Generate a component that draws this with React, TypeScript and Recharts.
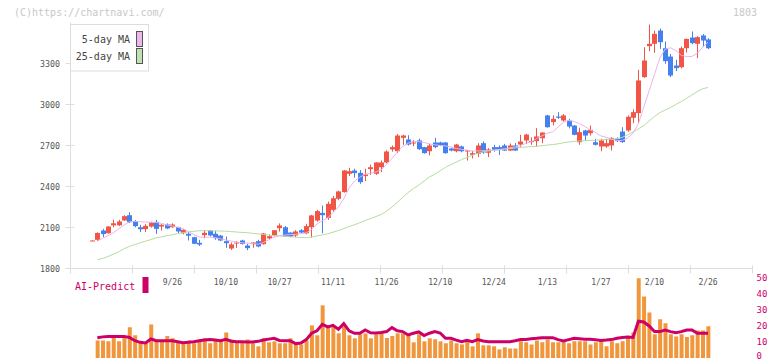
import React from 'react';
import { ComposedChart, Bar, Line, XAxis, YAxis } from 'recharts';

// trading days 9/3 .. 2/26, one entry per candle
const dateLabels = ['9/26', '10/10', '10/27', '11/11', '11/26', '12/10', '12/24', '1/13', '1/27', '2/10', '2/26'];
const dateIdx = [15, 25, 35, 45, 55, 65, 75, 85, 95, 105, 115];

const opens = [
  2000, 2010, 2078, 2058, 2116, 2116, 2152, 2190, 2146, 2102,
  2088, 2107, 2141, 2107, 2122, 2102, 2102, 2058, 2054, 2029,
  1988, 2044, 2078, 2054, 2041, 2000, 1946, 1983, 2005, 1968,
  1978, 2000, 1978, 2020, 2041, 2095, 2102, 2063, 2041, 2080,
  2058, 2102, 2151, 2207, 2171, 2229, 2310, 2359, 2493, 2517,
  2500, 2476, 2527, 2493, 2541, 2576, 2671, 2658, 2756, 2744,
  2717, 2737, 2688, 2658, 2722, 2722, 2722, 2678, 2658, 2693,
  2656, 2632, 2639, 2717, 2647, 2688, 2688, 2700, 2663, 2700,
  2707, 2737, 2729, 2732, 2753, 2920, 2871, 2912, 2883, 2883,
  2846, 2724, 2810, 2790, 2724, 2693, 2693, 2700, 2749, 2802,
  2810, 2903, 2937, 3200, 3427, 3444, 3541, 3412, 3351, 3285,
  3273, 3412, 3490, 3444, 3505, 3476,
];
const highs = [
  2006, 2065, 2090, 2110, 2158, 2156, 2190, 2212, 2155, 2120,
  2124, 2143, 2156, 2124, 2130, 2130, 2105, 2090, 2066, 2032,
  2010, 2080, 2082, 2075, 2045, 2034, 1990, 2000, 2010, 1980,
  1992, 2010, 2060, 2050, 2082, 2130, 2110, 2065, 2080, 2088,
  2127, 2193, 2230, 2261, 2290, 2330, 2370, 2520, 2537, 2530,
  2520, 2530, 2560, 2578, 2590, 2665, 2700, 2785, 2780, 2775,
  2740, 2750, 2690, 2712, 2756, 2728, 2725, 2683, 2712, 2700,
  2668, 2661, 2717, 2730, 2680, 2705, 2700, 2712, 2715, 2718,
  2778, 2786, 2760, 2827, 2797, 2925, 2920, 2944, 2930, 2895,
  2850, 2830, 2815, 2846, 2749, 2749, 2749, 2760, 2760, 2834,
  2920, 2965, 3254, 3419, 3585, 3541, 3556, 3461, 3370, 3327,
  3424, 3482, 3534, 3500, 3515, 3485,
];
const lows = [
  2000, 2003, 2030, 2055, 2102, 2110, 2148, 2132, 2102, 2066,
  2066, 2100, 2054, 2078, 2088, 2098, 2055, 2050, 2005, 1978,
  1965, 2020, 2035, 2010, 2000, 1951, 1936, 1951, 1975, 1934,
  1952, 1955, 1975, 2015, 2035, 2070, 2030, 2030, 2030, 2060,
  2050, 2027, 2142, 2058, 2156, 2215, 2300, 2355, 2476, 2465,
  2420, 2440, 2485, 2485, 2505, 2570, 2655, 2645, 2705, 2700,
  2695, 2668, 2640, 2627, 2680, 2695, 2640, 2658, 2650, 2650,
  2590, 2605, 2615, 2640, 2615, 2655, 2630, 2660, 2660, 2660,
  2690, 2710, 2705, 2693, 2717, 2830, 2847, 2895, 2875, 2825,
  2775, 2705, 2737, 2773, 2700, 2658, 2683, 2663, 2725, 2720,
  2800, 2863, 2863, 3195, 3390, 3378, 3407, 3298, 3200, 3244,
  3265, 3380, 3440, 3339, 3420, 3405,
];
const closes = [
  2005, 2060, 2052, 2107, 2131, 2144, 2183, 2139, 2110, 2087,
  2112, 2136, 2090, 2120, 2093, 2122, 2071, 2083, 2040, 1981,
  1975, 2061, 2042, 2022, 2005, 1985, 1976, 1990, 1980, 1949,
  1990, 1961, 2056, 2036, 2080, 2115, 2034, 2034, 2071, 2063,
  2110, 2188, 2220, 2190, 2273, 2314, 2364, 2517, 2512, 2498,
  2432, 2488, 2541, 2576, 2576, 2656, 2688, 2773, 2773, 2707,
  2722, 2673, 2644, 2700, 2688, 2700, 2644, 2663, 2707, 2658,
  2666, 2644, 2700, 2649, 2671, 2669, 2669, 2663, 2700, 2663,
  2729, 2780, 2732, 2766, 2795, 2834, 2895, 2903, 2920, 2839,
  2778, 2798, 2773, 2815, 2705, 2737, 2717, 2756, 2732, 2725,
  2910, 2944, 3176, 3322, 3444, 3517, 3456, 3317, 3212, 3266,
  3412, 3480, 3449, 3493, 3468, 3412,
];
const ma5 = [
  null, 2000, 2022, 2040, 2062, 2090, 2118, 2142, 2145, 2142,
  2140, 2138, 2137, 2130, 2118, 2112, 2102, 2090, 2070, 2048,
  2030, 2028, 2030, 2025, 2017, 2008, 2000, 1993, 1988, 1986,
  1982, 1978, 1990, 2010, 2028, 2040, 2045, 2048, 2050, 2055,
  2060, 2085, 2125, 2150, 2170, 2210, 2250, 2310, 2390, 2440,
  2468, 2490, 2497, 2507, 2522, 2562, 2605, 2652, 2693, 2716,
  2731, 2728, 2722, 2712, 2705, 2700, 2697, 2690, 2678, 2672,
  2665, 2660, 2660, 2662, 2663, 2665, 2670, 2675, 2683, 2690,
  2700, 2715, 2728, 2750, 2770, 2790, 2800, 2835, 2870, 2883,
  2876, 2860, 2840, 2815, 2795, 2770, 2760, 2745, 2737, 2737,
  2755, 2790, 2860, 2980, 3100, 3220, 3340, 3405, 3415, 3395,
  3360, 3350, 3352, 3375, 3420, 3456,
];
const ma25 = [
  null, 1864, 1874, 1888, 1905, 1922, 1945, 1962, 1975, 1988,
  2000, 2012, 2024, 2032, 2040, 2047, 2055, 2062, 2068, 2072,
  2076, 2077, 2076, 2075, 2074, 2073, 2070, 2067, 2064, 2062,
  2057, 2053, 2049, 2045, 2041, 2038, 2035, 2032, 2029, 2027,
  2026, 2030, 2038, 2046, 2054, 2066, 2078, 2092, 2107, 2120,
  2135, 2151, 2165, 2180, 2196, 2220, 2250, 2285, 2320, 2355,
  2385, 2410, 2440, 2470, 2490, 2515, 2540, 2560, 2578, 2597,
  2613, 2628, 2642, 2654, 2660, 2665, 2669, 2673, 2677, 2682,
  2686, 2689, 2692, 2694, 2698, 2703, 2707, 2712, 2720, 2726,
  2730, 2733, 2735, 2737, 2739, 2741, 2744, 2747, 2750, 2760,
  2778, 2800, 2822, 2845, 2880, 2912, 2940, 2960, 2978, 3000,
  3022, 3045, 3070, 3095, 3115, 3125,
];
const volume = [
  null, 11, 11, 10.4, 12.5, 10.4, 12.5, 19.2, 14.2, 10.6,
  9.2, 21, 10.8, 10.8, 13.8, 12.3, 10.6, 9.2, 11, 9.2,
  11, 12.3, 9.2, 11.7, 11, 16, 11.5, 10.2, 9.4, 11.5,
  9.2, 7.3, 12.3, 9.8, 10.4, 9.2, 9.2, 12.3, 8.5, 8.5,
  11, 20.4, 14.2, 32.9, 19.2, 19.8, 15.4, 19.8, 14.2, 12.3,
  14.8, 15.4, 12.3, 14.8, 15.4, 12.5, 13.8, 15.4, 15.4, 14.8,
  9.8, 14.8, 10.4, 12.3, 11.7, 10.4, 9.2, 11, 9.2, 8.5,
  11, 7.3, 15.4, 7.9, 7.9, 7.3, 5.4, 6.7, 6, 6,
  10.4, 9.8, 8.5, 11, 9.8, 11.5, 9.8, 9.8, 11, 9.2,
  10.4, 10.4, 10.4, 8.5, 9.8, 10.4, 7.3, 10.4, 9.2, 10.4,
  13.5, 16, 49.8, 38.5, 28.5, 14.8, 24.2, 21.7, 14.8, 13.5,
  14.8, 13.2, 14.2, 17.2, 17.2, 19.8,
];
const aiPredict = [
  null, 12.7, 13.2, 13.5, 13.5, 13.5, 13.5, 12.8, 10.8, 9.8,
  9.4, 11.9, 10.8, 10.8, 10.8, 10.8, 10.2, 9.6, 9.8, 10.2,
  10.8, 11.2, 11.5, 11.2, 10.8, 11.7, 10.5, 10.2, 10.2, 10.0,
  10.0, 10.4, 11.2, 11.8, 12.3, 11.0, 10.8, 10.8, 9.0, 9.4,
  11.5, 15.5, 17.0, 21.0, 19.4, 20.4, 18.0, 21.5, 17.0, 15.4,
  15.4, 17.5, 15.8, 15.6, 16.0, 16.5, 19.0, 17.0, 16.5, 14.4,
  15.5, 16.3, 14.0, 15.5, 16.5, 15.6, 12.3, 12.3, 11.2, 10.2,
  11.0, 10.2, 11.5, 10.6, 10.2, 10.2, 10.2, 10.2, 10.2, 10.8,
  11.5, 11.5, 12.0, 12.3, 12.7, 12.7, 12.7, 11.5, 10.6, 11.5,
  12.3, 12.0, 11.7, 11.7, 11.4, 11.0, 11.2, 11.5, 12.3, 12.8,
  13.1, 12.8, 23.0, 22.5, 20.0, 16.5, 16.5, 17.5, 16.5, 15.8,
  16.5, 17.5, 17.5, 15.4, 15.4, 15.4,
];
const priceTicks = [1800, 2100, 2400, 2700, 3000, 3300];
const aiTicks = [0, 10, 20, 30, 40, 50];

const W = 772;
const H = 361;
const X_MIN = -4.01;
const X_MAX = 123.3;
const gridTicks = Array.from({ length: 12 }, (_, k) => Math.min(X_MAX, X_MIN + (k * (X_MAX - X_MIN)) / 11));

const RED = '#f05545';
const BLUE = '#4480ee';
const AXIS = '#dddddd';
const TICK = '#555555';
const CRIMSON = '#cc0066';
const MONO = '"DejaVu Sans Mono", monospace';

const data = opens.map((o, i) => ({
  i,
  o,
  h: highs[i],
  l: lows[i],
  c: closes[i],
  ma5: ma5[i],
  ma25: ma25[i],
  vol: volume[i],
  ai: aiPredict[i],
}));

const Candle = (props: any) => {
  const { x, y, width, height, payload } = props;
  if (x == null || !payload) return null;
  const top = Math.min(y, y + height);
  const span = Math.abs(height);
  const { o, h, l, c } = payload;
  const k = span / (h - l);
  const cx = Math.round(x + width / 2);
  const yOf = (v: number) => top + (h - v) * k;
  const bTop = yOf(Math.max(o, c));
  const bBot = yOf(Math.min(o, c));
  const color = c >= o ? RED : BLUE;
  return (
    <g>
      <line x1={cx + 0.5} x2={cx + 0.5} y1={top} y2={top + span} stroke={color} strokeWidth={1} />
      <rect x={cx - 2} y={bTop} width={5} height={Math.max(1, bBot - bTop)} fill={color} />
    </g>
  );
};

const renderXTick = (p: any) => {
  const v = p.payload.value;
  const di = dateIdx.indexOf(v);
  if (di >= 0) {
    return (
      <text x={p.x} y={p.y + 16.5} textAnchor="middle" fontSize={8} fill={TICK} fontFamily={MONO}>
        {dateLabels[di]}
      </text>
    );
  }
  return <line x1={p.x} x2={p.x} y1={p.y - 3} y2={p.y + 5} stroke={AXIS} />;
};

const renderYTick = (p: any) => (
  <g>
    <line x1={p.x - 5} x2={p.x + 4} y1={p.y} y2={p.y} stroke={AXIS} />
    <text x={p.x - 10.5} y={p.y + 3} textAnchor="end" fontSize={8.3} fill={TICK} fontFamily={MONO}>
      {p.payload.value}
    </text>
  </g>
);

// lowest label sits on the page edge, so it is lifted a little
const renderAiTick = (p: any) => (
  <text x={p.x + 4} y={p.y + (p.payload.value === 0 ? 0.5 : 3)} textAnchor="start" fontSize={9} fill={CRIMSON} fontFamily={MONO}>
    {p.payload.value}
  </text>
);

const layer: React.CSSProperties = { position: 'absolute', left: 0, top: 0 };

export default function App() {
  return (
    <div style={{ position: 'absolute', left: 0, top: 0, width: W, height: H, background: '#fff' }}>
      <div style={layer}>
        <ComposedChart width={W} height={H} data={data} margin={{ top: 22.5, right: 19.5, left: 0, bottom: 67.5 }}>
          <XAxis
            dataKey="i"
            type="number"
            domain={[X_MIN, X_MAX]}
            allowDataOverflow
            ticks={[...gridTicks, ...dateIdx]}
            interval={0}
            height={25}
            tickSize={0}
            tickMargin={0}
            tickLine={false}
            axisLine={{ stroke: AXIS }}
            tick={renderXTick}
          />
          <YAxis
            domain={[1800, 3600]}
            ticks={priceTicks}
            interval={0}
            allowDataOverflow
            width={70.5}
            tickSize={0}
            tickMargin={0}
            tickLine={false}
            axisLine={{ stroke: AXIS }}
            tick={renderYTick}
          />
          <Bar dataKey={(d: any) => [d.l, d.h]} barSize={5} shape={Candle} isAnimationActive={false} />
          <Line dataKey="ma25" stroke="#b4dca0" strokeWidth={1} dot={false} isAnimationActive={false} />
          <Line dataKey="ma5" stroke="#e8b4ec" strokeWidth={1} dot={false} isAnimationActive={false} />
        </ComposedChart>
      </div>

      <div style={layer}>
        <ComposedChart width={W} height={H} data={data} margin={{ top: 278, right: 0, left: 70.5, bottom: 3 }}>
          <XAxis dataKey="i" type="number" domain={[X_MIN, X_MAX]} allowDataOverflow hide />
          <YAxis
            orientation="right"
            domain={[0, 50]}
            ticks={aiTicks}
            interval={0}
            width={19.5}
            tickSize={0}
            tickMargin={0}
            tickLine={false}
            axisLine={false}
            tick={renderAiTick}
          />
          <Bar dataKey="vol" fill="#f0963c" barSize={4} isAnimationActive={false} />
          <Line dataKey="ai" stroke={CRIMSON} strokeWidth={3} dot={false} isAnimationActive={false} />
        </ComposedChart>
      </div>

      <svg style={layer} width={W} height={H} fontFamily={MONO}>
        <text x={14} y={15.5} fontSize={10} fill="#c8c8c8">(C)https://chartnavi.com/</text>
        <text x={757} y={15.5} fontSize={10} fill="#c8c8c8" textAnchor="end">1803</text>

        <rect x={70.5} y={24.5} width={78} height={46.5} fill="#fff" stroke={AXIS} />
        <text x={130} y={43} fontSize={10} fill="#444" textAnchor="end">5-day MA</text>
        <rect x={136.5} y={31.5} width={6} height={15} fill="#eab8ee" stroke="#555" />
        <text x={130} y={59.5} fontSize={10} fill="#444" textAnchor="end">25-day MA</text>
        <rect x={136.5} y={48.5} width={6} height={15} fill="#bfe3b0" stroke="#555" />

        <text x={75} y={290} fontSize={10} fill={CRIMSON}>AI-Predict</text>
        <rect x={142.5} y={277} width={6} height={16} fill={CRIMSON} />
      </svg>
    </div>
  );
}
